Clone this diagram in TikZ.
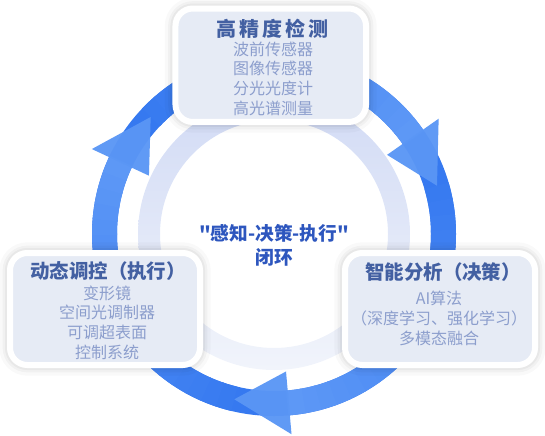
\documentclass[tikz,border=0pt]{standalone}
\usepackage{fontspec}
\newfontfamily\cjk{Noto Sans CJK SC}
\newfontfamily\cjkwide{Noto Sans CJK SC}[LetterSpace=15]
\definecolor{ringdark}{RGB}{54,121,240}
\definecolor{ringlight}{RGB}{93,152,246}
\definecolor{headblue}{RGB}{90,150,245}
\definecolor{hooptop}{RGB}{210,219,245}
\definecolor{hoopbot}{RGB}{241,244,251}
\definecolor{panelfill}{RGB}{230,235,245}
\definecolor{titleblue}{RGB}{67,96,162}
\definecolor{itemblue}{RGB}{140,158,205}
\definecolor{loopblue}{RGB}{45,86,190}
\tikzset{every picture/.style={line width=0.75pt}}
\tikzset{
  ringline/.style={line width=18.75pt},
  arrowhead/.style={fill=headblue,fill opacity=0.96},
  panel/.style={preaction={fill=none,draw=black,draw opacity=0.025,line width=16pt},
                preaction={fill=none,draw=black,draw opacity=0.03,line width=11pt},
                preaction={fill=none,draw=black,draw opacity=0.04,line width=7.5pt},
                fill=panelfill,draw=white,line width=4.5pt,rounded corners=13pt,
                minimum width=142.5pt,minimum height=84pt,inner sep=0pt},
  paneltitle/.style={text=titleblue,font=\cjk\bfseries\fontsize{14.6}{18}\selectfont,inner sep=0pt},
  panelitems/.style={text=itemblue,font=\cjk\fontsize{12}{14.8}\selectfont,align=center,inner sep=0pt},
  looptext/.style={text=loopblue,font=\cjk\bfseries\fontsize{14}{18}\selectfont,align=center,inner sep=0pt}
}

\begin{document}
\begin{tikzpicture}[x=0.75pt,y=0.75pt,yscale=-1,xscale=1]
\useasboundingbox (0,0) rectangle (545,435);
\coordinate (ctr) at (274,234);

%Shape: Inner Ring
\shade[even odd rule,top color=hooptop,bottom color=hoopbot] (ctr) circle[radius=136] (ctr) circle[radius=114];

%Shape: Outer Ring
\draw[ringline,draw=ringdark] (ctr) circle[radius=169.5];
\foreach \b in {-35,85,205}{
  \foreach \j in {0,...,19}{
    \pgfmathsetmacro\a{\b-101.5+\j*5.075}
    \pgfmathtruncatemacro\p{\j*5+5}
    \draw[ringline,draw=ringlight!\p!ringdark] (ctr) ++(\a:169.5) arc[start angle=\a,delta angle=5.6,radius=169.5];
  }
}

%Shape: Arrow Heads
\foreach \b in {-35,85,205}{
  \pgfmathsetmacro\t{\b+18.5}
  \fill[arrowhead] ([shift={(\b:138)}]ctr) -- ([shift={(\b:201)}]ctr) -- ([shift={(\t:170)}]ctr) -- cycle;
}

%Shape: Panels
\node[panel,minimum width=142.9pt,minimum height=85.1pt] (detect) at (270.75,65.25) {};
\node[panel] (exec) at (105,309) {};
\node[panel] (decide) at (440,309) {};

% Text Node
\node[paneltitle,font=\cjkwide\bfseries\fontsize{15}{18}\selectfont] (detect title) at (272.5,29) {高精度检测};
\node[panelitems] (detect items) at (273,78.5) {波前传感器\\图像传感器\\分光光度计\\高光谱测量};
% Text Node
\node[paneltitle] (exec title) at (108,271) {动态调控（执行）};
\node[panelitems] (exec items) at (107,322.5) {变形镜\\空间光调制器\\可调超表面\\控制系统};
% Text Node
\node[paneltitle] (decide title) at (443,272) {智能分析（决策）};
\node[panelitems] (decide items) at (439,318.5) {AI算法\\（深度学习、强化学习）\\多模态融合};
% Text Node
\node[looptext] (loop) at (274,245) {"感知-决策-执行"\\闭环};
\end{tikzpicture}
\end{document}
